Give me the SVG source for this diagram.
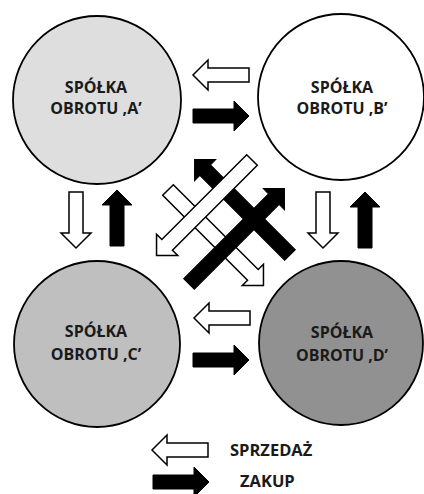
<svg xmlns="http://www.w3.org/2000/svg" width="424" height="494" viewBox="0 0 424 494">
<style>
.node{stroke:#000;stroke-width:1.8}
.lbl{font-family:"Open Sans","DejaVu Sans",sans-serif;font-weight:700;font-size:16px;fill:#1a1a1a;text-anchor:middle}
.leg{font-family:"Open Sans","DejaVu Sans",sans-serif;font-weight:700;font-size:16.5px;fill:#1a1a1a}
.sell{fill:#fff;stroke:#000;stroke-width:1.5;stroke-linejoin:miter}
.buy{fill:#000;stroke:#000;stroke-width:1}
</style>
<defs>
<path id="ar" d="M0,-7 H41 V-15 L56,0 L41,15 V7 H0 Z"/>
<path id="ard" d="M0,-7.5 H120 V-15 L135,0 L120,15 V7.5 H0 Z"/>
</defs>
<rect width="424" height="494" fill="#fff"/>
<g id="nodeA">
<circle class="node" cx="97" cy="100" r="84" fill="#dedede"/>
<text class="lbl" x="96" y="93">SPÓŁKA</text>
<text class="lbl" x="96" y="114">OBROTU ,A’</text>
</g>
<g id="nodeB">
<circle class="node" cx="341" cy="97" r="83" fill="#ffffff"/>
<text class="lbl" x="342" y="93">SPÓŁKA</text>
<text class="lbl" x="342" y="114">OBROTU ,B’</text>
</g>
<g id="nodeC">
<circle class="node" cx="97" cy="344" r="83" fill="#bfbfbf"/>
<text class="lbl" x="96" y="337">SPÓŁKA</text>
<text class="lbl" x="96" y="360">OBROTU ,C’</text>
</g>
<g id="nodeD">
<circle class="node" cx="341" cy="343" r="82" fill="#919191"/>
<text class="lbl" x="342" y="338">SPÓŁKA</text>
<text class="lbl" x="342" y="361">OBROTU ,D’</text>
</g>
<g id="connectors">
<use href="#ar" class="sell" transform="translate(249,75) rotate(180)"/>
<use href="#ar" class="buy" transform="translate(193,116)"/>
<use href="#ar" class="sell" transform="translate(76,192) rotate(90)"/>
<use href="#ar" class="buy" transform="translate(117,246) rotate(-90)"/>
<use href="#ar" class="sell" transform="translate(323,192) rotate(90)"/>
<use href="#ar" class="buy" transform="translate(365,248) rotate(-90)"/>
<use href="#ar" class="sell" transform="translate(250,318) rotate(180)"/>
<use href="#ar" class="buy" transform="translate(193,360)"/>
<use href="#ard" class="sell" transform="translate(168,190) rotate(45)"/>
<use href="#ard" class="buy" transform="translate(290,255) rotate(-135)"/>
<use href="#ard" class="sell" transform="translate(252,160) rotate(135)"/>
<use href="#ard" class="buy" transform="translate(189,284) rotate(-45)"/>
</g>
<g id="legend">
<use href="#ar" class="sell" transform="translate(208,450) rotate(180)"/>
<use href="#ar" class="buy" transform="translate(153,482)"/>
<text class="leg" x="230" y="456">SPRZEDAŻ</text>
<text class="leg" x="240" y="487">ZAKUP</text>
</g>
</svg>
